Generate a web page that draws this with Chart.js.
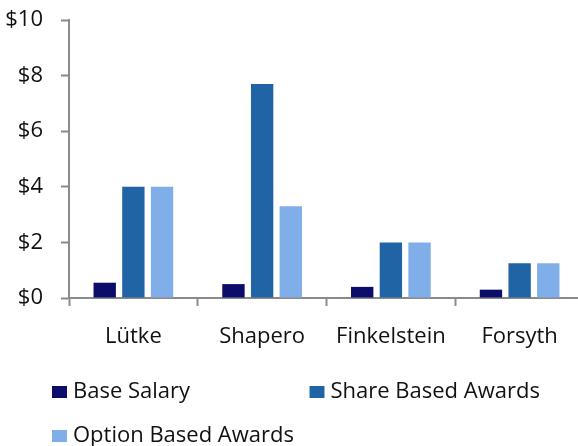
<!DOCTYPE html>
<html>
<head>
<meta charset="utf-8">
<script src="https://cdn.jsdelivr.net/npm/chart.js@4.4.1/dist/chart.umd.min.js"></script>
<style>
    html, body { margin: 0; padding: 0; background: #ffffff; overflow: hidden; }
    #wrap { position: relative; width: 584px; height: 446px; }
</style>
</head>
<body>
<div id="wrap"><canvas id="payChart" width="584" height="446"></canvas></div>
<script>
// ----------------------------------------------------------------------------
// Dados (milhões de dólares)
// ----------------------------------------------------------------------------
const executives = ['Lütke', 'Shapero', 'Finkelstein', 'Forsyth'];
const baseSalary = [0.55, 0.5, 0.4, 0.3];
const shareAwards = [4.0, 7.7, 2.0, 1.25];
const optionAwards = [4.0, 3.3, 2.0, 1.25];
const yTicks = [0, 2, 4, 6, 8, 10];

const FONT = { family: '"Open Sans", "Noto Sans", sans-serif', size: 22 };
const AXIS_GRAY = '#8a8a8a';

// Legenda em grade (duas colunas, como no relatório)
const gridLegend = {
    id: 'gridLegend',
    afterDraw(chart) {
        const { ctx, chartArea } = chart;
        const colWidth = (chartArea.right - chartArea.left) / 2;
        const startX = chartArea.left - 17;
        const startY = chartArea.bottom + 94;
        ctx.save();
        ctx.font = `${FONT.size}px ${FONT.family}`;
        ctx.textBaseline = 'middle';
        ctx.textAlign = 'left';
        chart.data.datasets.forEach((ds, i) => {
            const x = startX + (i % 2) * colWidth;
            const y = startY + Math.floor(i / 2) * 44;
            ctx.fillStyle = ds.backgroundColor;
            ctx.fillRect(x, y - 6, 15, 12);
            ctx.fillStyle = '#111111';
            ctx.fillText(ds.label, x + 21, y);
        });
        ctx.restore();
    }
};

const ctx = document.getElementById('payChart').getContext('2d');
const chart = new Chart(ctx, {
    type: 'bar',
    data: {
        labels: executives,
        datasets: [
            { label: 'Base Salary', data: baseSalary, backgroundColor: '#0c0c6b' },
            { label: 'Share Based Awards', data: shareAwards, backgroundColor: '#2164a5' },
            { label: 'Option Based Awards', data: optionAwards, backgroundColor: '#7faee8' }
        ]
    },
    options: {
        responsive: false,
        animation: false,
        devicePixelRatio: 1,
        layout: { padding: { top: 20, bottom: 98, left: 0, right: 0 } },
        datasets: {
            bar: { categoryPercentage: 0.668, barPercentage: 0.78 }
        },
        plugins: {
            legend: { display: false },
            tooltip: { enabled: false }
        },
        scales: {
            x: {
                grid: {
                    display: true,
                    drawOnChartArea: false,
                    drawTicks: true,
                    tickLength: 8,
                    tickWidth: 2,
                    color: AXIS_GRAY,
                    offset: true
                },
                border: { display: true, color: AXIS_GRAY, width: 2 },
                ticks: { color: '#111111', font: FONT, padding: 18, maxRotation: 0 },
                afterFit: scale => {
                    scale.height = 50;
                    scale.paddingLeft = 0;
                    scale.paddingRight = 0;
                }
            },
            y: {
                min: 0,
                max: 10,
                afterBuildTicks: scale => { scale.ticks = yTicks.map(v => ({ value: v })); },
                grid: {
                    display: true,
                    drawOnChartArea: false,
                    drawTicks: true,
                    tickLength: 8,
                    tickWidth: 2,
                    color: AXIS_GRAY
                },
                border: { display: true, color: AXIS_GRAY, width: 2 },
                ticks: {
                    color: '#111111',
                    font: FONT,
                    padding: 18,
                    callback: v => '$' + v
                },
                afterFit: scale => {
                    scale.width = 69;
                    scale.paddingTop = 0;
                    scale.paddingBottom = 0;
                }
            }
        }
    },
    plugins: [gridLegend]
});
</script>
</body>
</html>
